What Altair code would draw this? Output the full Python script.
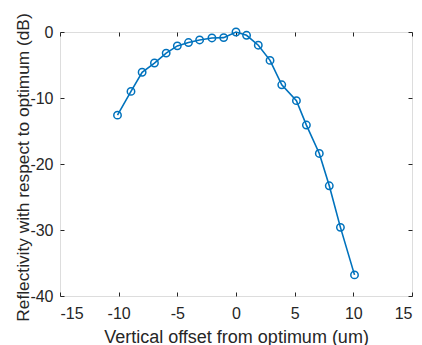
import altair as alt
import pandas as pd

offset_um = [-10.1, -8.95, -8.0, -6.95, -5.95, -5.0, -4.05, -3.1, -2.05, -1.05,
             0.0, 0.9, 1.9, 2.9, 3.9, 5.15, 6.0, 7.1, 7.95, 8.9, 10.1]
reflectivity_db = [-12.6, -9.0, -6.1, -4.7, -3.2, -2.1, -1.6, -1.2, -0.9, -0.85,
                   0.0, -0.5, -2.0, -4.3, -8.0, -10.4, -14.1, -18.4, -23.3, -29.6, -36.8]
x_ticks = [-15, -10, -5, 0, 5, 10, 15]
y_ticks = [-40, -30, -20, -10, 0]

df = pd.DataFrame({"x": offset_um, "y": reflectivity_db})

W, H = 352, 264
AX = "#262626"
BLUE = "#0072BD"
FONT = "Liberation Sans"

xs = alt.Scale(domain=[-15, 15], nice=False, zero=False)
ys = alt.Scale(domain=[-40, 0], nice=False, zero=False)

base = alt.Chart(df)

line = base.mark_line(color=BLUE, strokeWidth=1.6).encode(
    x=alt.X("x:Q", scale=xs, axis=alt.Axis(
        orient="bottom", values=x_ticks, title="Vertical offset from optimum (um)",
        ticks=False, domain=False, grid=False, labelPadding=9,
        titleX=W / 2, titleY=46, titleBaseline="alphabetic", titleAlign="center",
        labelFontSize=16, titleFontSize=18, labelColor=AX, titleColor=AX,
        labelFont=FONT, titleFont=FONT, titleFontWeight="normal",
        labelExpr="'' + datum.value")),
    y=alt.Y("y:Q", scale=ys, axis=alt.Axis(
        orient="left", values=y_ticks, title="Reflectivity with respect to optimum (dB)",
        ticks=False, domain=False, grid=False, labelPadding=7,
        titleX=-32, titleY=H / 2 + 3, titleBaseline="alphabetic", titleAlign="center", titleAngle=270,
        labelFontSize=16, titleFontSize=17.3, labelColor=AX, titleColor=AX,
        labelFont=FONT, titleFont=FONT, titleFontWeight="normal",
        labelExpr="'' + datum.value")),
)

points = base.mark_point(shape="circle", filled=False, color=BLUE, size=55,
                         strokeWidth=1.5, opacity=1).encode(
    x=alt.X("x:Q", scale=xs, axis=None),
    y=alt.Y("y:Q", scale=ys, axis=None),
)

tick_common = dict(labels=False, title=None, grid=False, domain=False,
                   ticks=True, tickSize=4, tickColor=AX, tickWidth=1)

ticks_a = base.mark_point(opacity=0).encode(
    x=alt.X("x:Q", scale=xs, axis=alt.Axis(orient="top", offset=-H, values=x_ticks, **tick_common)),
    y=alt.Y("y:Q", scale=ys, axis=alt.Axis(orient="right", offset=-W, values=y_ticks, **tick_common)),
)

ticks_b = base.mark_point(opacity=0).encode(
    x=alt.X("x:Q", scale=xs, axis=alt.Axis(orient="bottom", offset=-H, values=x_ticks, **tick_common)),
    y=alt.Y("y:Q", scale=ys, axis=alt.Axis(orient="left", offset=-W, values=y_ticks, **tick_common)),
)

chart = alt.layer(line, points, ticks_a, ticks_b).resolve_axis(
    x="independent", y="independent"
).properties(
    width=W, height=H,
    autosize=alt.AutoSizeParams(type="none"),
    padding={"left": 52, "top": 24, "right": 2, "bottom": 49},
).configure_view(stroke=AX, strokeWidth=1).configure(background="white")

chart.save("out.html", embed_options={"renderer": "svg", "actions": False})
